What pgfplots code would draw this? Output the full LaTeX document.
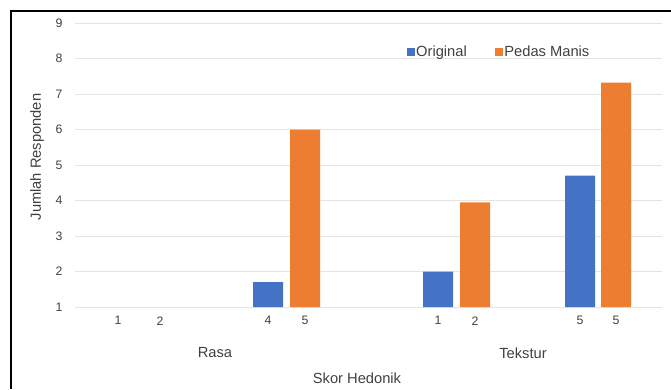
\documentclass[border=0pt]{standalone}
\usepackage{pgfplots}
\pgfplotsset{compat=1.18}
\usepackage{fontspec}
\setmainfont{Liberation Sans}
\definecolor{cblue}{HTML}{4472C4}
\definecolor{corange}{HTML}{ED7D31}
\definecolor{txt}{HTML}{404040}
\definecolor{gridc}{HTML}{E4E4E4}
\newcommand{\lblfont}{\fontsize{14.7bp}{17bp}\selectfont}
\begin{document}
\begin{tikzpicture}[x=1bp,y=1bp]
\useasboundingbox (0,0) rectangle (671,389);
\draw[line width=2.5bp] (11,0) -- (11,378) -- (671,378);
\begin{axis}[
  at={(75bp,82bp)}, anchor=south west,
  scale only axis, width=587bp, height=284bp,
  xmin=75, xmax=662, ymin=1, ymax=9,
  ytick={1,2,3,4,5,6,7,8,9},
  xtick={118,160,268,305,438,475,580,616},
  xticklabels={1,2,4,5,1,2,5,5},
  axis line style={draw=none},
  major tick length=0pt,
  ymajorgrids, grid style={gridc, line width=0.9bp},
  /pgf/number format/assume math mode=true,
  ticklabel style={font=\fontsize{12.3bp}{14bp}\selectfont, text=txt},
  yticklabel style={xshift=-9bp},
  xticklabel style={yshift=-6bp},
  legend columns=2,
  legend style={draw=none, fill=none, at={(0.5656,0.898)}, anchor=west,
    font=\lblfont, text=txt, inner sep=0pt,
    nodes={inner xsep=1.5bp},
    /tikz/every even column/.append style={column sep=27bp}},
  legend image code/.code={\fill[#1] (0bp,-3.6bp) rectangle (7.5bp,3.6bp);},
]
\addplot[ybar, bar shift=0pt, bar width=30, fill=cblue, draw=none]
  coordinates {(268,1.7) (438,2.0) (580,4.7)};
\addlegendentry{Original}
\addplot[ybar, bar shift=0pt, bar width=30, fill=corange, draw=none]
  coordinates {(305,6.0) (475,3.95) (616,7.32)};
\addlegendentry{Pedas Manis}
\end{axis}
\node[rotate=90, text=txt, font=\lblfont] at (37,232) {Jumlah Responden};
\node[text=txt, font=\lblfont] at (215,36) {Rasa};
\node[text=txt, font=\lblfont] at (523,36) {Tekstur};
\node[text=txt, font=\lblfont] at (357,11) {Skor Hedonik};
\end{tikzpicture}
\end{document}
